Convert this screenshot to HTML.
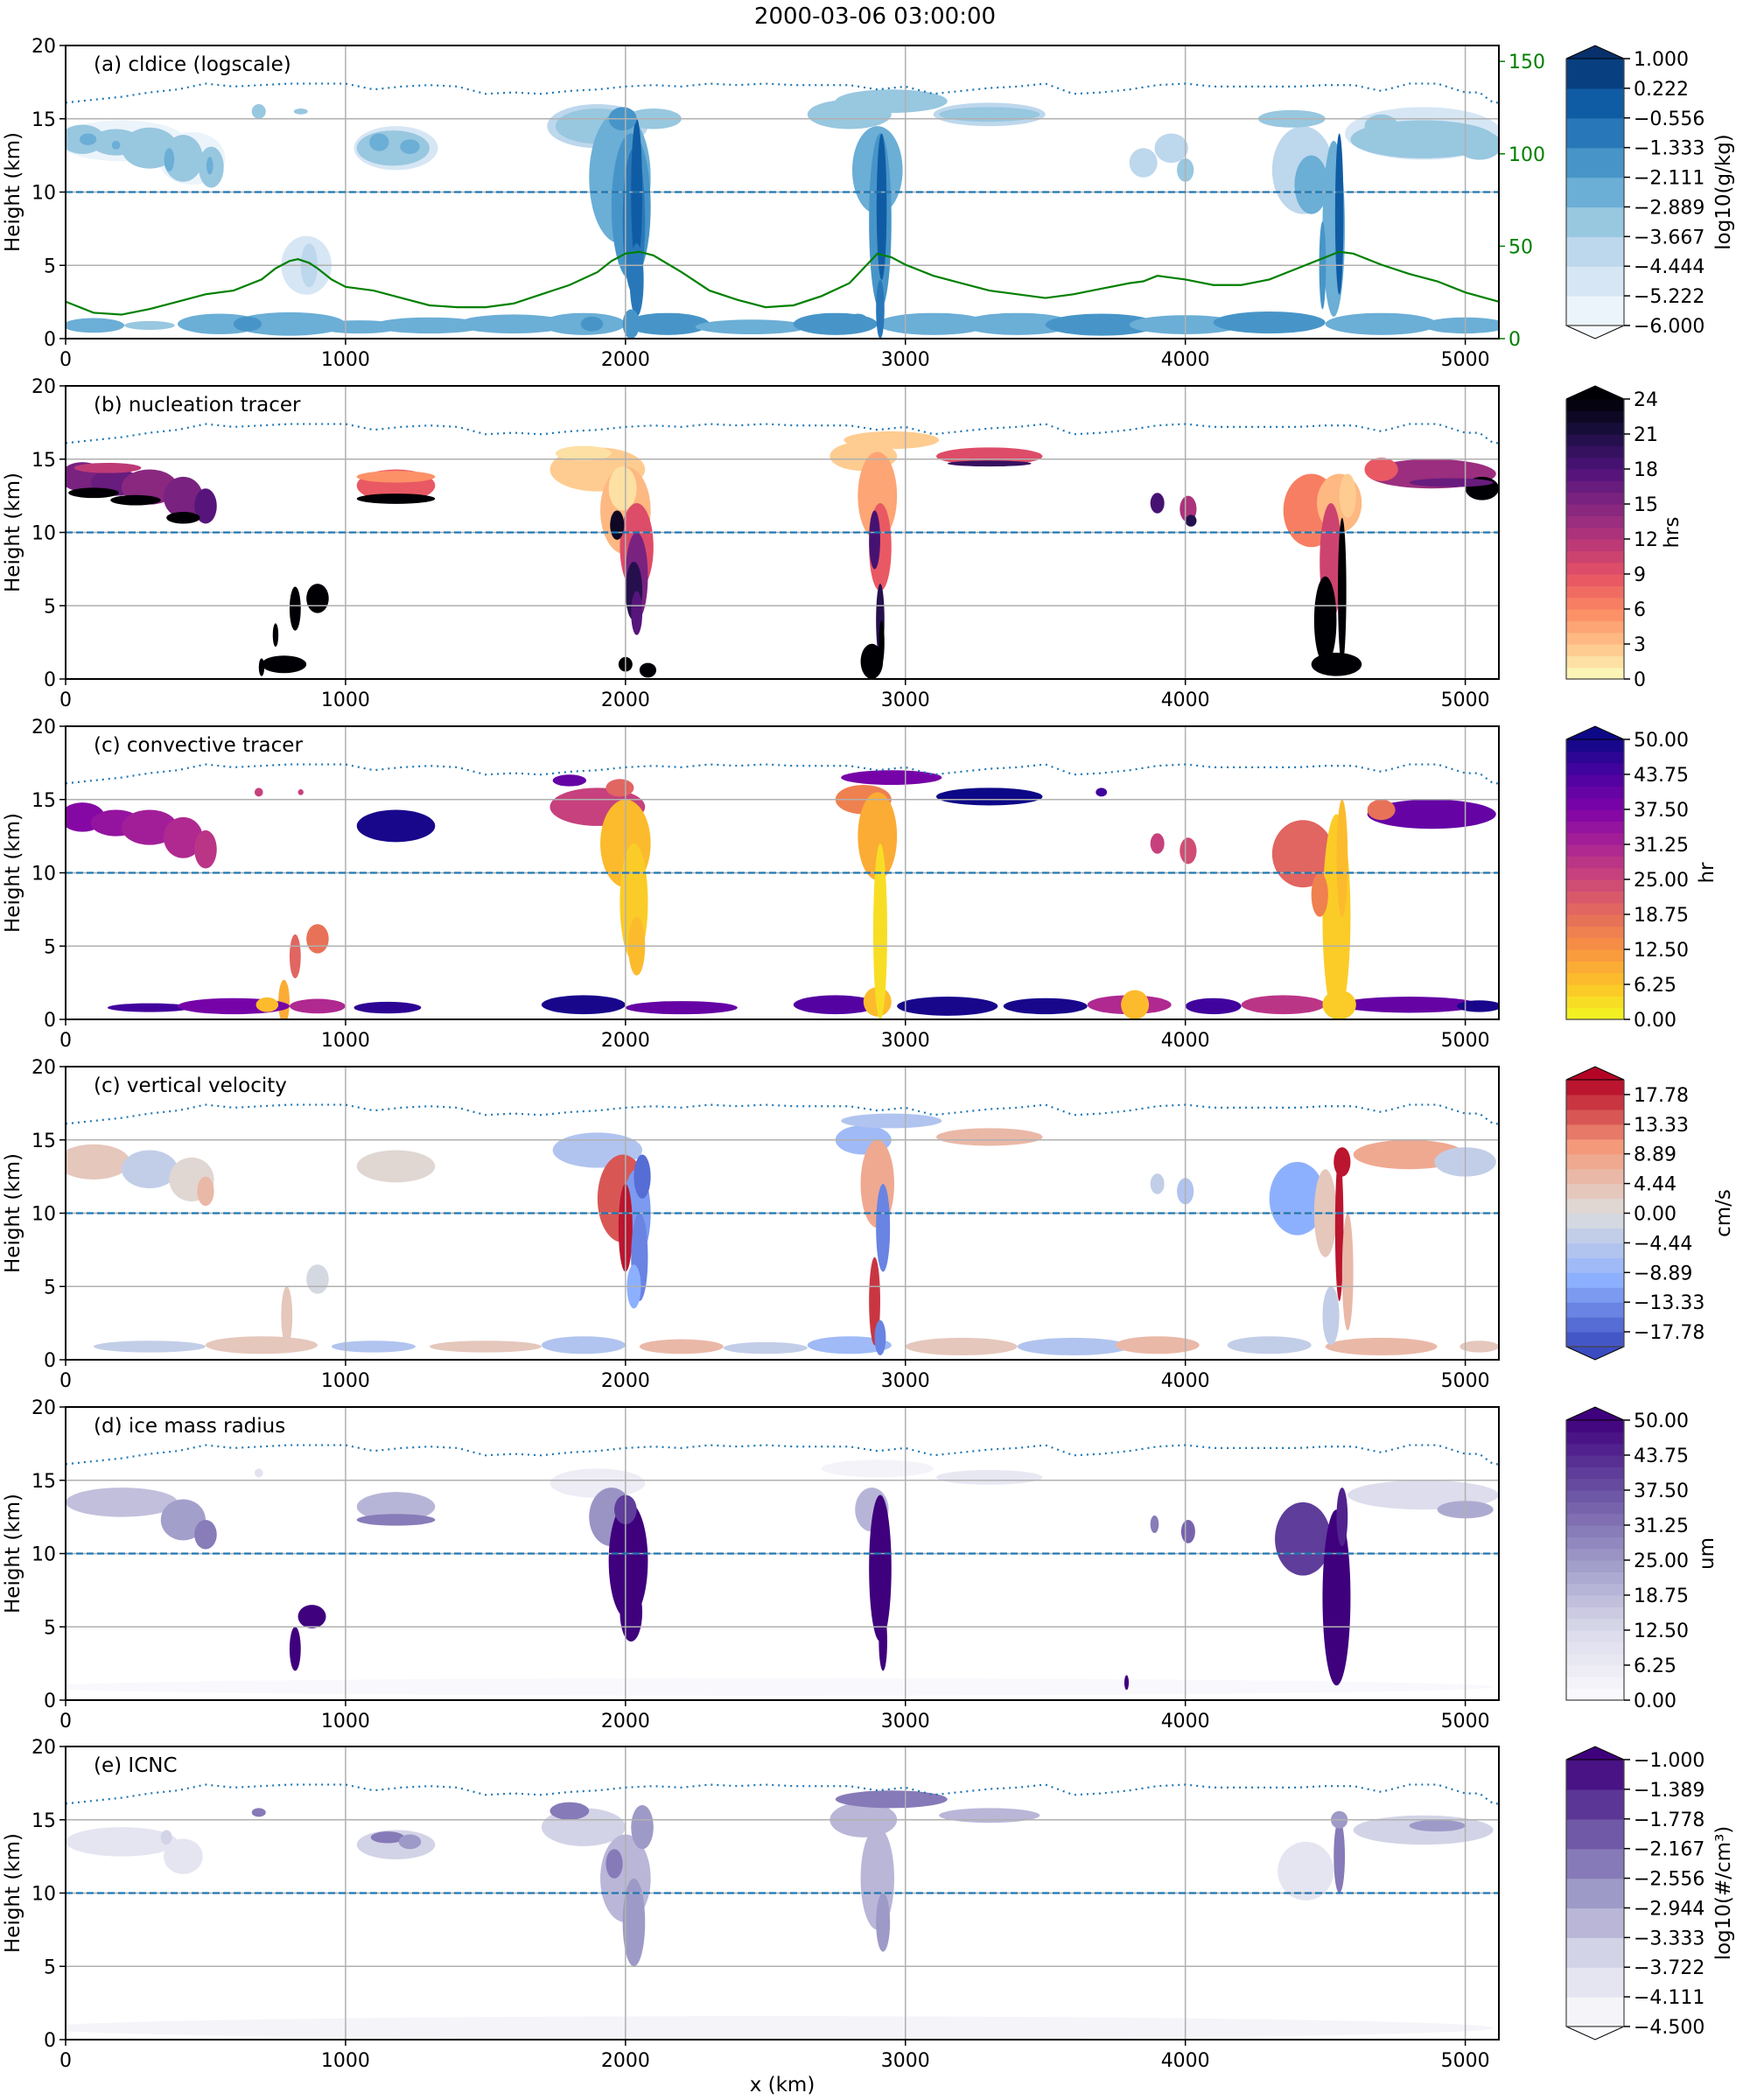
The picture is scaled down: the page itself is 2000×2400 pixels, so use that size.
<!DOCTYPE html>
<html><head><meta charset="utf-8"><style>
html,body{margin:0;padding:0;background:#fff;}
svg{display:block;font-family:"DejaVu Sans","Liberation Sans",sans-serif;}
</style></head><body>
<svg id="fig" xmlns="http://www.w3.org/2000/svg" width="2000" height="2400" viewBox="0 0 2000 2400">
<rect width="2000" height="2400" fill="#fff"/>
<text x="1000" y="27" font-size="26" text-anchor="middle">2000-03-06 03:00:00</text>
<text x="894" y="2390" font-size="23" text-anchor="middle">x (km)</text>
</svg>
<script>
// ---------- data ----------
const xTicks = [0, 1000, 2000, 3000, 4000, 5000];
const yTicks = [0, 5, 10, 15, 20];
const greenTicks = [0, 50, 100, 150];
const tropoX = [0,100,200,300,400,500,600,700,800,900,1000,1100,1200,1300,1400,1500,1600,1700,1800,1900,2000,2100,2200,2300,2400,2500,2600,2700,2800,2900,3000,3100,3200,3300,3400,3500,3600,3700,3800,3900,4000,4100,4200,4300,4400,4500,4600,4700,4800,4900,5000,5050,5100,5120];
const tropoZ = [16.1,16.3,16.5,16.8,17.0,17.4,17.2,17.3,17.4,17.4,17.4,17.0,17.2,17.3,17.2,16.7,16.8,16.7,16.9,17.0,17.2,17.3,17.2,17.4,17.3,17.4,17.3,17.3,17.3,17.0,17.2,16.7,16.9,17.1,17.2,17.4,16.7,16.8,17.0,17.3,17.4,17.2,17.2,17.2,17.2,17.3,17.3,16.9,17.4,17.4,16.8,16.8,16.1,16.1];
const greenX = [0,100,200,300,400,500,600,700,750,800,830,870,900,950,1000,1100,1200,1300,1400,1500,1600,1700,1800,1900,1950,2000,2050,2100,2200,2300,2400,2500,2600,2700,2800,2850,2900,2950,3000,3100,3200,3300,3400,3500,3600,3700,3800,3850,3900,3950,4000,4100,4200,4300,4400,4500,4550,4600,4700,4800,4900,5000,5120];
const greenVal = [20,14,13,16,20,24,26,32,38,42,43,41,38,32,28,26,22,18,17,17,19,24,29,36,42,46,47,45,36,26,21,17,18,23,30,38,46,44,40,34,30,26,24,22,24,27,30,31,34,33,32,29,29,32,38,44,47,46,40,35,31,25,20];

const blobsA = [[200,13.5,230,1.4,-5.5],[450,12.3,120,1.8,-5.5],[60,13.6,80,1.0,-3.4],[180,13.4,90,0.9,-3.4],[300,13.0,100,1.4,-3.3],[420,12.3,70,1.6,-3.2],[520,11.7,45,1.4,-3.2],[80,13.6,30,0.4,-2.8],[370,12.2,18,0.8,-2.3],[515,11.8,12,0.6,-2.3],[180,13.2,15,0.3,-2.5],[690,15.5,25,0.5,-3.0],[840,15.5,25,0.2,-3.4],[1180,13.0,150,1.5,-4.5],[1170,13.0,130,1.2,-3.4],[1120,13.4,35,0.6,-2.6],[1230,13.1,35,0.5,-2.6],[860,5,90,2,-5.2],[870,5,30,1.5,-4.3],[100,0.9,110,0.5,-2.4],[300,0.9,90,0.3,-3],[550,1.0,150,0.7,-2.4],[800,1.0,200,0.8,-2.3],[1050,0.8,150,0.45,-2.6],[1300,0.9,200,0.55,-2.4],[1600,1.0,200,0.65,-2.4],[1850,1.0,150,0.75,-2.2],[2150,1.0,150,0.75,-2.1],[2450,0.8,200,0.5,-2.4],[2750,1.0,150,0.75,-2.1],[3100,1.0,200,0.75,-2.3],[3400,1.0,200,0.75,-2.2],[3700,0.95,200,0.75,-2.1],[4000,0.95,200,0.65,-2.3],[4300,1.1,200,0.75,-2.1],[4700,1.0,200,0.75,-2.3],[5000,0.9,150,0.55,-2.3],[650,1.0,50,0.5,-1.6],[1880,1.0,40,0.5,-1.5],[2830,1.1,40,0.6,-1.5],[3650,1.0,40,0.5,-1.6],[4350,1.0,50,0.5,-1.6],[1900,14.5,180,1.5,-4.0],[1900,14.5,150,1.2,-3.2],[2100,15,100,0.7,-3.3],[1980,11,110,4.5,-2.8],[2020,9,70,5,-1.8],[2030,8,40,5,-1.0],[2040,10,20,5,-0.3],[2040,4,25,2.5,-1.2],[2020,1,30,1,-1.5],[1990,15,50,0.8,-2.0],[2800,15.3,150,1,-3.6],[2950,16.2,200,0.8,-3.5],[2900,11.5,90,3,-2.8],[2910,8,40,6,-1.5],[2915,9,18,5,-0.5],[2910,2,15,2,-1.2],[3300,15.3,200,0.8,-4.0],[3300,15.3,180,0.5,-3.5],[3850,12,50,1,-4.3],[3950,13,60,1,-4.0],[4000,11.5,30,0.8,-3.2],[4420,11.5,110,3,-3.8],[4450,10.5,60,2,-2.6],[4530,7.5,40,6,-2.7],[4550,8.5,15,5.5,-0.3],[4490,5,12,3,-1.8],[4850,14,280,1.8,-4.5],[4850,13.6,260,1.3,-3.3],[5050,13.2,80,1,-3.2],[4700,14.5,60,0.8,-3.1],[4380,15,120,0.6,-3.6]];
const blobsB = [[60,13.8,80,1,15],[180,13.4,90,0.9,16],[300,13.1,100,1.2,14],[420,12.4,70,1.4,15],[500,11.8,40,1.2,17],[100,12.7,90,0.35,25],[250,12.2,90,0.35,25],[420,11.0,60,0.4,25],[150,14.4,120,0.35,11],[1180,13.2,140,1.1,8],[1180,12.3,140,0.35,25],[1180,13.8,140,0.4,5],[900,5.5,40,1,25],[820,4.8,20,1.5,25],[780,1.0,80,0.6,25],[700,0.8,10,0.6,25],[750,3,10,0.8,25],[1900,14.3,170,1.5,2],[1850,15.4,100,0.5,1],[2000,11.5,90,3,3],[1990,13,50,1.5,1],[2040,9,60,3,9],[2040,7,40,3,15],[2030,6,30,2,20],[2040,4.5,20,1.5,17],[1970,10.5,25,1,22],[2000,1.0,25,0.5,25],[2080,0.6,30,0.5,25],[2850,15.2,120,1,2],[2950,16.3,170,0.6,2],[2900,12.5,70,3,4],[2910,9,40,3,8],[2890,9.5,20,2,18],[2910,4,15,2.5,20],[2880,1.2,40,1.2,25],[2915,2.5,10,1.5,25],[3300,15.2,190,0.6,9],[3300,14.7,150,0.2,19],[3900,12,25,0.7,18],[4010,11.6,30,0.9,12],[4020,10.8,20,0.4,20],[4450,11.5,100,2.5,6],[4550,12,80,2,3],[4520,8,40,4,10],[4500,4,40,3,25],[4540,1.0,90,0.8,25],[4560,6,15,5,25],[4580,12.5,30,1.5,2],[4880,14,230,1,13],[4700,14.3,60,0.8,8],[5060,13,60,0.8,25],[4950,13.4,150,0.3,16]];
const blobsC = [[60,13.8,80,1,36],[180,13.4,90,0.9,34],[300,13.1,100,1.2,32],[420,12.4,70,1.4,30],[500,11.6,40,1.3,28],[1180,13.2,140,1.1,48],[690,15.5,15,0.3,25],[840,15.5,10,0.2,25],[900,5.5,40,1,17],[820,4.3,20,1.5,20],[780,1.2,20,1.5,10],[300,0.8,150,0.3,44],[600,0.9,200,0.55,38],[900,0.9,100,0.5,30],[1150,0.8,120,0.4,46],[1850,1.0,150,0.65,50],[2200,0.8,200,0.45,40],[2750,1.0,150,0.65,42],[3150,0.9,180,0.65,50],[3500,0.9,150,0.55,48],[3800,1.0,150,0.65,30],[4100,0.9,100,0.55,45],[4350,1.0,150,0.65,28],[4800,1.0,250,0.55,40],[5050,0.9,80,0.4,50],[720,1,40,0.5,8],[2900,1.2,50,1,8],[3820,1,50,1,8],[4550,1,60,1,5],[1900,14.5,170,1.3,25],[2000,12,90,3,8],[2030,8,50,4,5],[2040,5,30,2,8],[1980,15.8,50,0.6,20],[1800,16.3,60,0.4,40],[2850,15,100,1,16],[2950,16.5,180,0.5,38],[2900,12.5,70,3,10],[2910,6,25,6,4],[3300,15.2,190,0.6,51],[3900,12,25,0.7,25],[4010,11.5,30,0.9,24],[3700,15.5,20,0.3,45],[4420,11.3,110,2.3,19],[4540,7,50,7,5],[4560,11,20,4,8],[4480,8.5,30,1.5,15],[4880,14,230,1,40],[4700,14.3,50,0.7,18]];
const blobsV = [[100,13.5,130,1.2,3],[300,13,100,1.3,-3],[450,12.3,80,1.5,2],[500,11.5,30,1,6],[1180,13.2,140,1.1,2],[900,5.5,40,1,-2],[790,3,20,2,3],[300,0.9,200,0.4,-4],[700,1.0,200,0.6,4],[1100,0.9,150,0.4,-5],[1500,0.9,200,0.4,3],[1850,1.0,150,0.6,-6],[2200,0.9,150,0.5,5],[2500,0.8,150,0.4,-4],[2800,1.0,150,0.6,-8],[3200,0.9,200,0.6,4],[3600,0.9,200,0.6,-5],[3900,1.0,150,0.6,6],[4300,1.0,150,0.6,-4],[4700,0.9,200,0.6,5],[5050,0.9,70,0.4,3],[1900,14.3,160,1.2,-6],[1990,11,90,3,14],[2040,10,50,3,-12],[2000,9,25,3,19],[2050,7,30,3,-14],[2030,5,25,1.5,-10],[2060,12.5,30,1.5,-16],[2850,15,100,1,-7],[2950,16.3,180,0.5,-5],[2900,12,60,3,8],[2920,9,25,3,-15],[2890,4,20,3,16],[2910,1.5,20,1.2,-14],[3300,15.2,190,0.6,6],[3900,12,25,0.7,-4],[4000,11.5,30,0.9,-5],[4400,11,100,2.5,-10],[4500,10,40,3,4],[4550,9,15,5,20],[4560,13.5,30,1,18],[4580,6,20,4,6],[4520,3,30,2,-4],[4800,14,200,1,7],[5000,13.5,110,1,-3]];
const blobsD = [[200,13.5,200,1,17],[420,12.3,80,1.4,24],[500,11.3,40,1,30],[1180,13.2,140,1,20],[1180,12.3,140,0.4,30],[690,15.5,15,0.3,10],[880,5.7,50,0.8,52],[820,3.5,20,1.5,52],[2500,0.9,2600,0.6,2],[1900,14.8,170,1,6],[1950,12.5,80,2,25],[2010,9.5,70,4,52],[2020,6,40,2,52],[2000,13,40,1,40],[2900,15.8,200,0.6,4],[2880,13,60,1.5,20],[2910,9,40,5,52],[2920,4,15,2,52],[3300,15.2,190,0.5,7],[3790,1.2,8,0.5,52],[4010,11.5,25,0.8,35],[3890,12,15,0.6,30],[4420,11,100,2.5,40],[4540,7,50,6,52],[4560,12.5,20,2,45],[4850,14,270,1,12],[5000,13,100,0.6,22]];
const blobsE = [[2500,0.8,2600,0.8,-4.4],[200,13.5,200,1,-4.1],[420,12.5,70,1.2,-3.8],[360,13.8,20,0.5,-3.4],[1180,13.3,140,1,-3.6],[1150,13.8,60,0.4,-2.5],[1230,13.5,40,0.5,-2.7],[690,15.5,25,0.3,-2.3],[1850,14.5,150,1.3,-3.6],[1800,15.6,70,0.6,-2.4],[2000,11,90,3,-3.2],[2030,8,40,3,-2.8],[2060,14.5,40,1.5,-2.6],[1960,12,30,1,-2.5],[2850,15,120,1.2,-3.3],[2950,16.4,200,0.6,-2.5],[2900,11,60,3.5,-3.1],[2920,8,25,2,-2.6],[3300,15.3,180,0.5,-3.3],[4430,11.5,100,2,-4.0],[4550,12.5,20,2.5,-2.4],[4550,15,30,0.6,-2.6],[4850,14.3,250,1,-3.6],[4900,14.6,100,0.4,-2.9]];

const ticksA = ["1.000","0.222","−0.556","−1.333","−2.111","−2.889","−3.667","−4.444","−5.222","−6.000"];
const ticksB = ["24","21","18","15","12","9","6","3","0"];
const ticksC = ["50.00","43.75","37.50","31.25","25.00","18.75","12.50","6.25","0.00"];
const ticksV = ["17.78","13.33","8.89","4.44","0.00","−4.44","−8.89","−13.33","−17.78"];
const ticksD = ["50.00","43.75","37.50","31.25","25.00","18.75","12.50","6.25","0.00"];
const ticksE = ["−1.000","−1.389","−1.778","−2.167","−2.556","−2.944","−3.333","−3.722","−4.111","−4.500"];

// ---------- colormaps ----------
const BLUES=["#f7fbff","#deebf7","#c6dbef","#9ecae1","#6baed6","#4292c6","#2171b5","#08519c","#08306b"];
const MAGMA=["#000004","#1c1044","#4f127b","#812581","#b5367a","#e55064","#fb8761","#fec287","#fcfdbf"];
const PLASMA=["#0d0887","#4c02a1","#7e03a8","#a92395","#cc4778","#e56b5d","#f89441","#fdc328","#f0f921"];
const COOLW=["#3b4cc0","#8db0fe","#dddddd","#f49a7b","#b40426"];
const PURP=["#fcfbfd","#dadaeb","#9e9ac8","#6a51a3","#3f007d"];
function hx(c){return [1,3,5].map(i=>parseInt(c.substr(i,2),16));}
function interp(arr,t){t=Math.max(0,Math.min(1,t));const n=arr.length-1,i=Math.min(n-1,Math.floor(t*n)),f=t*n-i;const a=hx(arr[i]),b=hx(arr[i+1]);return "rgb("+a.map((v,k)=>Math.round(v+(b[k]-v)*f)).join(",")+")";}
const panels=[
 {key:"a",label:"(a) cldice (logscale)",blobs:blobsA,vmin:-6,vmax:1,n:9,cmap:v=>interp(BLUES,v),ticks:ticksA,tickMin:-6,tickMax:1,lo:true,hi:true,unit:"log10(g/kg)",ux:1977},
 {key:"b",label:"(b) nucleation tracer",blobs:blobsB,vmin:0,vmax:24,n:24,cmap:v=>interp(MAGMA,1-v),ticks:ticksB,tickMin:0,tickMax:24,lo:false,hi:true,unit:"hrs",ux:1918},
 {key:"c",label:"(c) convective tracer",blobs:blobsC,vmin:0,vmax:50,n:24,cmap:v=>interp(PLASMA,1-v),ticks:ticksC,tickMin:0,tickMax:50,lo:false,hi:true,unit:"hr",ux:1958},
 {key:"v",label:"(c) vertical velocity",blobs:blobsV,vmin:-20,vmax:20,n:18,cmap:v=>interp(COOLW,v),ticks:ticksV,tickMin:-17.78,tickMax:17.78,lo:true,hi:true,unit:"cm/s",ux:1977},
 {key:"d",label:"(d) ice mass radius",blobs:blobsD,vmin:0,vmax:50,n:24,cmap:v=>interp(PURP,v),ticks:ticksD,tickMin:0,tickMax:50,lo:false,hi:true,unit:"um",ux:1958},
 {key:"e",label:"(e) ICNC",blobs:blobsE,vmin:-4.5,vmax:-1,n:9,cmap:v=>interp(PURP,v),ticks:ticksE,tickMin:-4.5,tickMax:-1,lo:true,hi:true,unit:"log10(#/cm³)",ux:1977}
];
// ---------- layout ----------
const NS="http://www.w3.org/2000/svg";
const svg=document.getElementById("fig");
const L=75,R=1713,XMAX=5120,PH=335;
const TOPS=[52,441,830,1219,1608,1996];
function sx(x){return L+(x/XMAX)*(R-L);}
function mk(tag,attrs,parent){const e=document.createElementNS(NS,tag);for(const k in attrs)e.setAttribute(k,attrs[k]);(parent||svg).appendChild(e);return e;}
function bandColor(p,v){
  if(v>p.vmax) return p.cmap(1);
  const step=(p.vmax-p.vmin)/p.n;let i=Math.floor((v-p.vmin)/step);i=Math.max(0,Math.min(p.n-1,i));
  return p.cmap((i+0.5)/p.n);
}
const defs=mk("defs",{});
panels.forEach((p,pi)=>{
  const T=TOPS[pi],B=T+PH;
  const sy=z=>B-(z/20)*PH;
  const g=mk("g",{});
  
  
  const cp=mk("clipPath",{id:"clip"+pi},defs);
  mk("rect",{x:L,y:T,width:R-L,height:PH},cp);
  const field=mk("g",{"clip-path":"url(#clip"+pi+")"},g);
  
  
  p.blobs.forEach(b=>{
    const e=mk("ellipse",{cx:sx(b[0]),cy:sy(b[1]),rx:(sx(b[2])-sx(0)),ry:(b[3]/20)*PH,fill:bandColor(p,b[4])},field);
    
    
  });
  xTicks.forEach(t=>{if(t>0){const l=mk("line",{x1:sx(t),x2:sx(t),y1:T,y2:B,stroke:"#b0b0b0","stroke-width":1.5},g);}});
  yTicks.forEach(t=>{if(t>0&&t<20){const l=mk("line",{x1:L,x2:R,y1:sy(t),y2:sy(t),stroke:"#b0b0b0","stroke-width":1.5},g);}});
  const dl=mk("line",{x1:L,x2:R,y1:sy(10),y2:sy(10),stroke:"#1f77b4","stroke-width":2.2,"stroke-dasharray":"8 4"},g);
  
  const tp=mk("polyline",{points:tropoX.map((x,i)=>sx(x)+","+sy(tropoZ[i])).join(" "),fill:"none",stroke:"#1f77b4","stroke-width":2.2,"stroke-dasharray":"2 5"},g);
  
  if(pi===0){
    const gy=v=>B-(v/158.6)*PH;
    const gl=mk("polyline",{points:greenX.map((x,i)=>sx(x)+","+gy(greenVal[i])).join(" "),fill:"none",stroke:"#008000","stroke-width":2.2},g);
    
    mk("line",{x1:R,x2:R,y1:T,y2:B,stroke:"#008000","stroke-width":2},g);
    greenTicks.forEach(t=>{
      mk("line",{x1:R,x2:R+7,y1:gy(t),y2:gy(t),stroke:"#008000","stroke-width":1.5},g);
      const tx=mk("text",{x:R+11,y:gy(t)+8,"font-size":22,fill:"#008000"},g);tx.textContent=t;
      
    });
  }
  const fr=mk("rect",{x:L,y:T,width:R-L,height:PH,fill:"none",stroke:"#000","stroke-width":2},g);
  
  xTicks.forEach(t=>{
    mk("line",{x1:sx(t),x2:sx(t),y1:B,y2:B+7,stroke:"#000","stroke-width":1.5},g);
    const tx=mk("text",{x:sx(t),y:B+31,"font-size":22,"text-anchor":"middle"},g);tx.textContent=t;
    
  });
  yTicks.forEach(t=>{
    mk("line",{x1:L-7,x2:L,y1:sy(t),y2:sy(t),stroke:"#000","stroke-width":1.5},g);
    const tx=mk("text",{x:L-11,y:sy(t)+8,"font-size":22,"text-anchor":"end"},g);tx.textContent=t;
    
  });
  const yt=mk("text",{x:0,y:0,"font-size":23,"text-anchor":"middle",transform:"translate(22,"+(T+PH/2)+") rotate(-90)"},g);
  yt.textContent="Height (km)";
  const lb=mk("text",{x:107,y:T+29,"font-size":23},g);lb.textContent=p.label;
  
  const cb=mk("g",{},g);
  
  const cx1=1790,cx2=1856,cm=(cx1+cx2)/2;
  const rt=T+15, rb=p.lo?B-15:B;
  const bh=(rb-rt)/p.n;
  for(let i=0;i<p.n;i++){mk("rect",{x:cx1,y:rb-(i+1)*bh,width:cx2-cx1,height:bh+0.6,fill:p.cmap((i+0.5)/p.n)},cb);}
  if(p.hi) mk("polygon",{points:cx1+","+rt+" "+cm+","+T+" "+cx2+","+rt,fill:p.cmap(1),stroke:"#000","stroke-width":1},cb);
  if(p.lo) mk("polygon",{points:cx1+","+rb+" "+cm+","+B+" "+cx2+","+rb,fill:p.cmap(0),stroke:"#000","stroke-width":1},cb);
  mk("polyline",{points:cx1+","+rt+" "+cx1+","+rb+(p.lo?"":" "+cx2+","+rb)+" "+cx2+","+rb+" "+cx2+","+rt,fill:"none",stroke:"#444","stroke-width":1.2},cb);
  const n=p.ticks.length;
  const vy=v=>rb-((v-p.vmin)/(p.vmax-p.vmin))*(rb-rt);
  p.ticks.forEach((s,i)=>{
    const v=p.tickMax-(p.tickMax-p.tickMin)*i/(n-1);
    const y=vy(v);
    mk("line",{x1:cx2,x2:cx2+7,y1:y,y2:y,stroke:"#000","stroke-width":1.5},cb);
    const tx=mk("text",{x:cx2+11,y:y+8,"font-size":22},cb);tx.textContent=s;
    
  });
  const ut=mk("text",{x:0,y:0,"font-size":23,"text-anchor":"middle",transform:"translate("+p.ux+","+(T+PH/2)+") rotate(-90)"},cb);
  ut.textContent=p.unit;
});
</script>
</body></html>
